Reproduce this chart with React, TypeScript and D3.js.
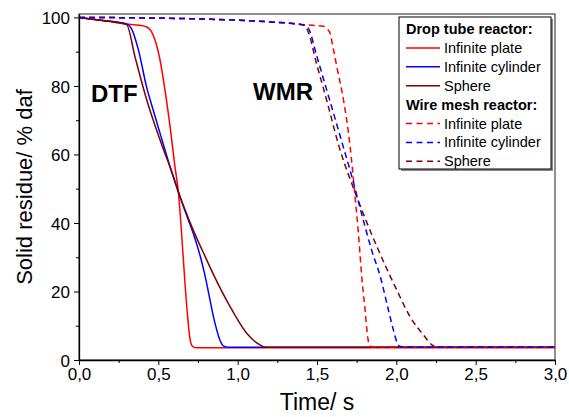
import React, { useRef, useEffect } from 'react';
import * as d3 from 'd3';

// [time (s), solid residue (% daf)]
const dtfPlate: [number, number][] = [
  [0, 100], [0.15, 99.1], [0.3, 98.1], [0.38, 97.7], [0.427, 97.2], [0.455, 96.0],
  [0.479, 93.4], [0.511, 87.5], [0.542, 78.8], [0.574, 68.1], [0.605, 56.4],
  [0.626, 49.1], [0.658, 29.2], [0.668, 22.4], [0.685, 12.5], [0.7, 6.0],
  [0.715, 4.0], [0.735, 3.6], [3.0, 3.6],
];
const dtfCylinder: [number, number][] = [
  [0, 100], [0.15, 99.1], [0.3, 98.1], [0.33, 96.8], [0.374, 90.6], [0.427, 79.5],
  [0.468, 72.9], [0.51, 66.3], [0.57, 57.0], [0.626, 49.1], [0.68, 42.0],
  [0.72, 37.0], [0.763, 30.5], [0.79, 25.5], [0.826, 17.5], [0.848, 12.5],
  [0.868, 8.8], [0.89, 5.6], [0.91, 4.1], [0.94, 3.7], [3.0, 3.7],
];
const dtfSphere: [number, number][] = [
  [0, 100], [0.15, 99.1], [0.3, 97.9], [0.353, 88.5], [0.427, 75.9], [0.511, 64.2],
  [0.595, 53.5], [0.626, 49.1], [0.72, 37.9], [0.799, 29.8], [0.847, 25.0],
  [0.952, 15.6], [1.057, 7.8], [1.141, 4.4], [1.18, 3.7], [3.0, 3.7],
];
const wmrPlate: [number, number][] = [
  [0, 100], [0.5, 99.8], [0.8, 99.5], [1.0, 99.2], [1.2, 98.7], [1.33, 98.3],
  [1.404, 97.9], [1.47, 97.7], [1.54, 97.4], [1.565, 96.6], [1.583, 95.3],
  [1.6, 91.5], [1.625, 85.6], [1.667, 75.9], [1.709, 62.2], [1.74, 47.6],
  [1.761, 37.0], [1.782, 24.3], [1.803, 14.6], [1.82, 6.5], [1.835, 4.0],
  [1.86, 3.8], [3.0, 3.8],
];
const wmrCylinder: [number, number][] = [
  [0, 100], [0.5, 99.8], [0.8, 99.5], [1.0, 99.2], [1.2, 98.7], [1.33, 98.3],
  [1.404, 97.9], [1.425, 97.6], [1.446, 96.8], [1.5, 88.5], [1.56, 79.0],
  [1.62, 69.5], [1.667, 62.0], [1.72, 53.5], [1.772, 44.3], [1.845, 32.0],
  [1.898, 24.5], [1.95, 14.6], [1.98, 9.0], [2.003, 5.3], [2.02, 4.0],
  [2.05, 3.8], [3.0, 3.8],
];
const wmrSphere: [number, number][] = [
  [0, 100], [0.5, 99.8], [0.8, 99.5], [1.0, 99.2], [1.2, 98.7], [1.33, 98.3],
  [1.404, 97.9], [1.415, 97.8], [1.44, 96.3], [1.5, 86.0], [1.56, 76.0],
  [1.641, 62.0], [1.75, 47.7], [1.887, 32.1], [2.003, 20.4], [2.087, 12.6],
  [2.171, 7.3], [2.224, 4.4], [2.26, 3.8], [3.0, 3.8],
];

const xTicks = [0, 0.5, 1.0, 1.5, 2.0, 2.5, 3.0];
const xMinorTicks = [0.25, 0.75, 1.25, 1.75, 2.25, 2.75];
const yTicks = [0, 20, 40, 60, 80, 100];
const yMinorTicks = [10, 30, 50, 70, 90];

const groups = ['Drop tube reactor:', 'Wire mesh reactor:'];
const shapes = ['Infinite plate', 'Infinite cylinder', 'Sphere'];
const colors = ['#ff0000', '#0000ff', '#800000'];

const FONT = '"Liberation Sans", Arial, Helvetica, sans-serif';

const App = () => {
  const svgRef = useRef<SVGSVGElement>(null);

  useEffect(() => {
    const svg = d3.select(svgRef.current);
    svg.selectAll('*').remove();

    const margin = { top: 14, right: 14, bottom: 57, left: 79 };
    const width = 569;
    const height = 417;

    const x = d3.scaleLinear().domain([0, 3]).range([margin.left, width - margin.right]);
    const y = d3.scaleLinear().domain([0, 101]).range([height - margin.bottom, margin.top]);

    const fmt = (d: number) => d3.format('.1f')(d).replace('.', ',');

    // frame
    svg.append('rect')
      .attr('x', x(0)).attr('y', y(101))
      .attr('width', x(3) - x(0)).attr('height', y(0) - y(101))
      .attr('fill', 'none').attr('stroke', '#444').attr('stroke-width', 1.2);

    // curves
    const line = d3.line<[number, number]>()
      .x(d => x(d[0]))
      .y(d => y(d[1]))
      .curve(d3.curveMonotoneX);

    const series = [
      { data: dtfPlate, color: colors[0], dash: null },
      { data: dtfCylinder, color: colors[1], dash: null },
      { data: dtfSphere, color: colors[2], dash: null },
      { data: wmrSphere, color: colors[2], dash: '6,4' },
      { data: wmrPlate, color: colors[0], dash: '6,4' },
      { data: wmrCylinder, color: colors[1], dash: '6,4' },
    ];

    const plot = svg.append('g');
    series.forEach(s => {
      plot.append('path')
        .attr('d', line(s.data))
        .attr('fill', 'none')
        .attr('stroke', s.color)
        .attr('stroke-width', 1.5)
        .attr('stroke-dasharray', s.dash);
    });

    // axes
    const xAxis = svg.append('g')
      .attr('transform', `translate(0,${y(0)})`)
      .call(d3.axisBottom(x).tickValues(xTicks).tickFormat(fmt).tickSize(5).tickSizeOuter(0).tickPadding(3));
    svg.append('g')
      .attr('transform', `translate(0,${y(0)})`)
      .call(d3.axisBottom(x).tickValues(xMinorTicks).tickFormat(() => '').tickSize(3).tickSizeOuter(0))
      .select('.domain').remove();

    const yAxis = svg.append('g')
      .attr('transform', `translate(${x(0)},0)`)
      .call(d3.axisLeft(y).tickValues(yTicks).tickSize(5).tickSizeOuter(0).tickPadding(4));
    svg.append('g')
      .attr('transform', `translate(${x(0)},0)`)
      .call(d3.axisLeft(y).tickValues(yMinorTicks).tickFormat(() => '').tickSize(3).tickSizeOuter(0))
      .select('.domain').remove();

    [xAxis, yAxis].forEach(a => {
      a.selectAll('text')
        .attr('font-family', FONT)
        .attr('font-size', 17)
        .attr('fill', '#000');
      a.select('.domain').attr('stroke-width', 1.3);
    });
    svg.selectAll('.tick line').attr('stroke', '#000').attr('stroke-width', 1);
    yAxis.selectAll('.tick text').attr('dy', '0.36em');

    // axis titles
    svg.append('text')
      .attr('x', (x(0) + x(3)) / 2)
      .attr('y', 410)
      .attr('text-anchor', 'middle')
      .attr('font-family', FONT)
      .attr('font-size', 23)
      .text('Time/ s');

    svg.append('text')
      .attr('transform', `translate(32,${(y(0) + y(101)) / 2}) rotate(-90)`)
      .attr('text-anchor', 'middle')
      .attr('font-family', FONT)
      .attr('font-size', 22)
      .text('Solid residue/ % daf');

    // annotations
    svg.append('text')
      .attr('x', 91).attr('y', 102)
      .attr('font-family', FONT).attr('font-size', 24).attr('font-weight', 'bold')
      .text('DTF');
    svg.append('text')
      .attr('x', 253).attr('y', 100)
      .attr('font-family', FONT).attr('font-size', 24).attr('font-weight', 'bold')
      .text('WMR');

    // legend
    const legend = svg.append('g').attr('transform', 'translate(399,17)');
    const lw = 152;
    const lh = 152;
    legend.append('rect')
      .attr('x', 2).attr('y', 2).attr('width', lw).attr('height', lh)
      .attr('fill', '#888');
    legend.append('rect')
      .attr('x', 0).attr('y', 0).attr('width', lw).attr('height', lh)
      .attr('fill', '#fff').attr('stroke', '#000').attr('stroke-width', 1);

    const rowH = 18.9;
    groups.forEach((g, gi) => {
      const base = gi * 4;
      legend.append('text')
        .attr('x', 7).attr('y', 12 + base * rowH + 5)
        .attr('font-family', FONT).attr('font-size', 14.5).attr('font-weight', 'bold')
        .text(g);
      shapes.forEach((s, si) => {
        const cy = 12 + (base + si + 1) * rowH;
        legend.append('line')
          .attr('x1', 7).attr('x2', 41)
          .attr('y1', cy).attr('y2', cy)
          .attr('stroke', colors[si]).attr('stroke-width', 1.5)
          .attr('stroke-dasharray', gi === 1 ? '6,4.5' : null);
        legend.append('text')
          .attr('x', 45).attr('y', cy + 5)
          .attr('font-family', FONT).attr('font-size', 14.5)
          .text(s);
      });
    });
  }, []);

  return (
    <svg
      ref={svgRef}
      width={569}
      height={417}
      style={{ position: 'absolute', left: 0, top: 0, background: '#fff' }}
    />
  );
};

export default App;
